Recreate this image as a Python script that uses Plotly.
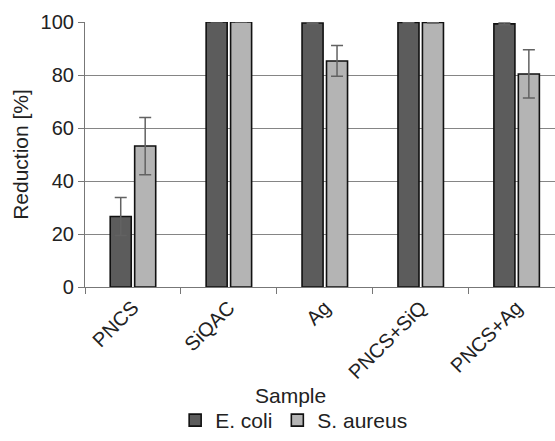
import plotly.graph_objects as go

samples = ["PNCS", "SiQAC", "Ag", "PNCS+SiQ", "PNCS+Ag"]
ecoli = [26.6, 100, 99.6, 99.8, 99.3]
ecoli_err = [7.2, 0, 0.3, 0.2, 0.3]
saureus = [53.2, 100, 85.3, 99.8, 80.4]
saureus_err = [10.8, 0, 5.8, 0.2, 9.1]
yticks = [0, 20, 40, 60, 80, 100]

FONT = "Liberation Sans, Arial, sans-serif"
TXT = "#222222"

fig = go.Figure()
fig.add_trace(go.Bar(
    x=samples, y=ecoli, name="E. coli",
    marker=dict(color="#5c5c5c", line=dict(color="#111111", width=1.6)),
    error_y=dict(type="data", array=ecoli_err, visible=True, color="#626262", thickness=1.5, width=6),
))
fig.add_trace(go.Bar(
    x=samples, y=saureus, name="S. aureus",
    marker=dict(color="#b4b4b4", line=dict(color="#111111", width=1.6)),
    error_y=dict(type="data", array=saureus_err, visible=True, color="#626262", thickness=1.5, width=6),
))

fig.update_layout(
    width=555, height=441,
    margin=dict(l=85, r=0, t=22, b=149),
    paper_bgcolor="white", plot_bgcolor="white",
    barmode="group", bargap=0.49, bargroupgap=0.14,
    font=dict(family=FONT, size=20, color=TXT),
    showlegend=True,
    legend=dict(orientation="h", x=0.445, xanchor="center", y=-0.504, yanchor="middle",
                font=dict(size=21, color=TXT), itemwidth=30, tracegroupgap=0,
                bgcolor="rgba(0,0,0,0)"),
    xaxis=dict(
        type="category", range=[-0.5, 4.4], tickson="boundaries",
        ticks="outside", ticklen=6, tickcolor="#777777", tickangle=-45,
        showline=True, linecolor="#777777", linewidth=1.2,
        showgrid=False, tickfont=dict(size=20, color=TXT),
    ),
    yaxis=dict(
        range=[0, 100], tickvals=yticks, ticks="outside", ticklen=6, tickcolor="#777777",
        showline=True, linecolor="#777777", linewidth=1.2,
        showgrid=True, gridcolor="#858585", gridwidth=1, zeroline=False,
        tickfont=dict(size=20, color=TXT),
        title=dict(text="Reduction [%]", font=dict(size=21, color=TXT), standoff=6),
    ),
    annotations=[dict(text="Sample", xref="paper", yref="paper", x=0.438, y=-0.408,
                      xanchor="center", yanchor="middle", showarrow=False,
                      font=dict(size=21, color=TXT))],
)

fig.write_html("out.html")
